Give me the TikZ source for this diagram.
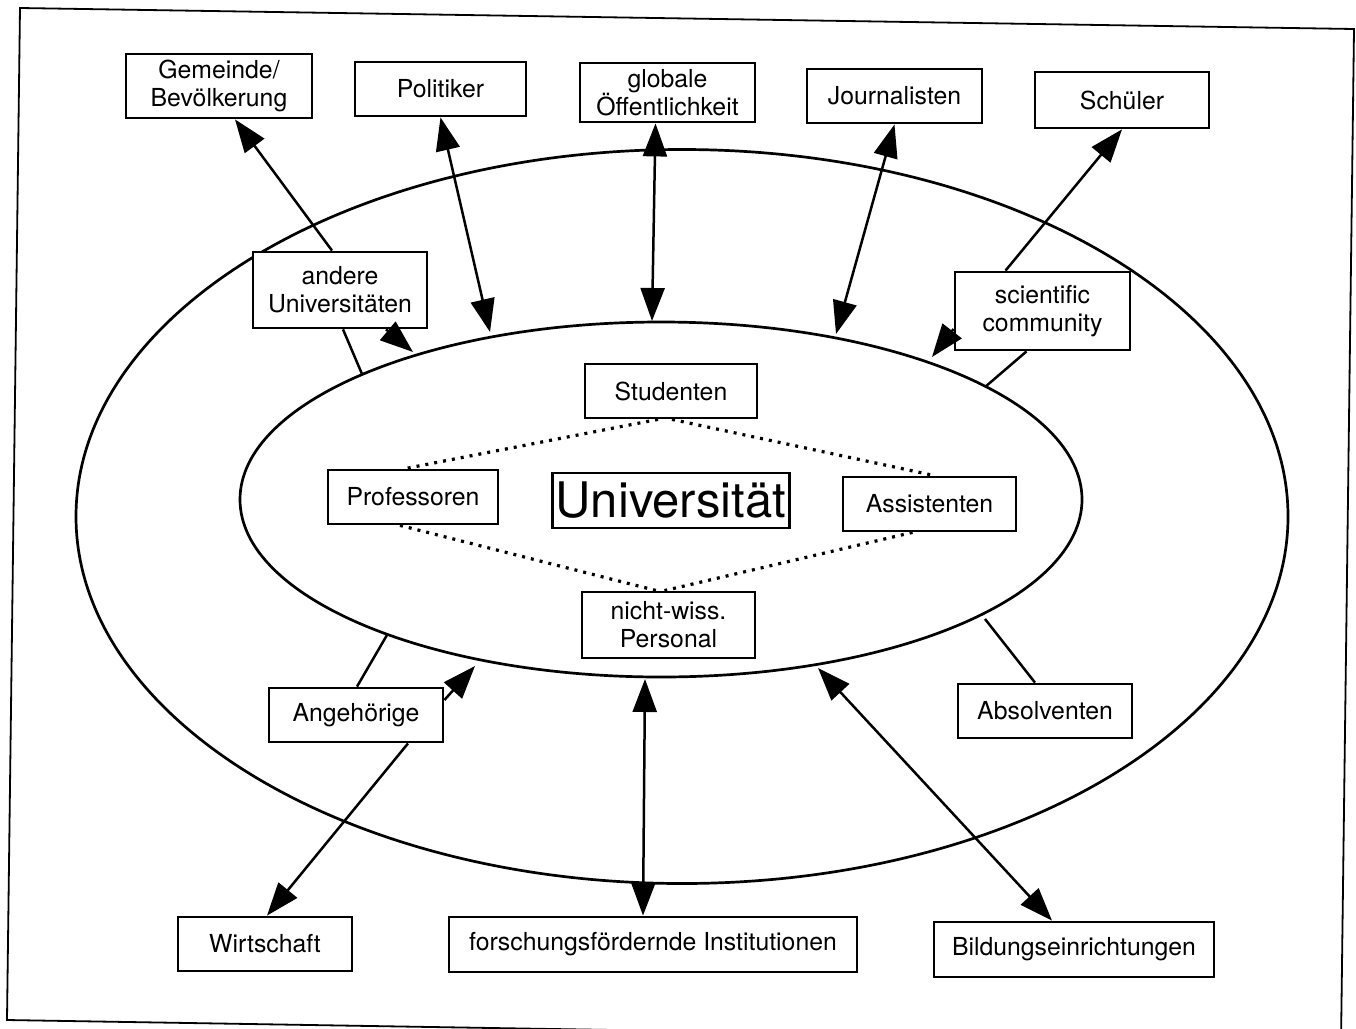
\documentclass[tikz,border=0pt]{standalone}
\usepackage{fontspec}
\setmainfont{TeX Gyre Heros}
\usetikzlibrary{arrows.meta}
\begin{document}
\begin{tikzpicture}[x=1pt,y=-1pt,
  box/.style={draw, line width=2.8pt, fill=white, inner sep=0pt, align=center,
    font=\fontsize{24.8}{28}\selectfont},
  link/.style={line width=2.5pt},
  tip/.style={-{Triangle[length=33pt,width=24pt]}},
  both/.style={{Triangle[length=33pt,width=24pt]}-{Triangle[length=33pt,width=24pt]}},
  dots/.style={line width=3.2pt, dash pattern=on 3pt off 6pt},
  ring/.style={line width=2.7pt}
]
\useasboundingbox (0,0) rectangle (1356,1028);
\clip (0,0) rectangle (1356,1028);
\fill[white] (0,0) rectangle (1356,1028);
% scanned frame
\draw[line width=1.8pt] (20,8) -- (1354,29) -- (1341,1042) -- (7,1020) -- cycle;
% ellipses
\draw[ring] (682,516.5) ellipse (606 and 367);
\draw[ring] (661,499.5) ellipse (421 and 177.5);
% nodes
\node[box, minimum width=186pt, minimum height=64pt] (gem) at (219,86) {Gemeinde/\\Bevölkerung};
\node[box, minimum width=171pt, minimum height=54pt] (pol) at (440.5,89) {Politiker};
\node[box, minimum width=175pt, minimum height=59pt] (glob) at (667.5,92.5) {globale\\Öffentlichkeit};
\node[box, minimum width=175pt, minimum height=54pt] (jour) at (894.5,96) {Journalisten};
\node[box, minimum width=174pt, minimum height=56pt] (sch) at (1122,100) {Schüler};
\node[box, minimum width=174pt, minimum height=76pt] (andere) at (340,290) {andere\\Universitäten};
\node[box, minimum width=175pt, minimum height=78pt] (sci) at (1042.5,311) {scientific\\community};
\node[box, minimum width=172pt, minimum height=54pt] (stud) at (671,391) {Studenten};
\node[box, minimum width=170pt, minimum height=54pt] (prof) at (413,497) {Professoren};
\node[box, minimum width=237pt, minimum height=55pt, font=\fontsize{49}{56}\selectfont] (uni) at (671,500.5) {Universität};
\node[box, minimum width=173pt, minimum height=54pt] (assi) at (929.5,504) {Assistenten};
\node[box, minimum width=173pt, minimum height=66pt] (nwp) at (668.5,625) {nicht-wiss.\\Personal};
\node[box, minimum width=174pt, minimum height=54pt] (ang) at (356,715) {Angehörige};
\node[box, minimum width=174pt, minimum height=54pt] (abs) at (1045,711) {Absolventen};
\node[box, minimum width=174pt, minimum height=54pt] (wirt) at (265,944) {Wirtschaft};
\node[box, minimum width=408pt, minimum height=55pt] (fors) at (653,944.5) {forschungsfördernde Institutionen};
\node[box, minimum width=280pt, minimum height=55pt] (bild) at (1074,949.5) {Bildungseinrichtungen};
% points on the inner ellipse
\coordinate (eA) at (362,374);
\coordinate (eB) at (413,352);
\coordinate (eP) at (490,332);
\coordinate (eG) at (652,321);
\coordinate (eJ) at (836,334);
\coordinate (eS) at (932,357);
\coordinate (eSc) at (985,387);
\coordinate (eAn) at (387,635);
\coordinate (eAa) at (475,666);
\coordinate (eF) at (645,679);
\coordinate (eBi) at (818,668);
\coordinate (eAb) at (985,619);
% connectors
\draw[link,tip] ([xshift=-8pt]andere.north) -- ([xshift=16pt]gem.south);
\draw[link] ([xshift=3pt]andere.south) -- (eA);
\draw[link,tip] ([xshift=46pt]andere.south) -- (eB);
\draw[link,both] (pol.south) -- (eP);
\draw[link,both] ([xshift=-12pt]glob.south) -- (eG);
\draw[link,both] (jour.south) -- (eJ);
\draw[link,tip] ([xshift=-37pt]sci.north) -- (sch.south);
\draw[link,tip] ([yshift=-18pt]sci.west) -- (eS);
\draw[link] ([xshift=-16pt]sci.south) -- (eSc);
\draw[link] ([xshift=1pt]ang.north) -- (eAn);
\draw[link,tip] ([yshift=15pt]ang.east) -- (eAa);
\draw[link,tip] ([xshift=52pt]ang.south) -- ([xshift=2pt]wirt.north);
\draw[link,both] (eF) -- ([xshift=-10pt]fors.north);
\draw[link,both] (eBi) -- ([xshift=-22pt]bild.north);
\draw[link] ([xshift=-10pt]abs.north) -- (eAb);
% dotted diamond
\draw[dots] ([xshift=-13pt]stud.south) -- ([xshift=-8pt]prof.north);
\draw[dots] ([xshift=1pt]stud.south) -- ([xshift=5pt]assi.north);
\draw[dots] ([xshift=-13pt]prof.south) -- ([xshift=-12pt]nwp.north);
\draw[dots] ([xshift=-17pt]assi.south) -- ([xshift=-4pt]nwp.north);
\end{tikzpicture}
\end{document}
